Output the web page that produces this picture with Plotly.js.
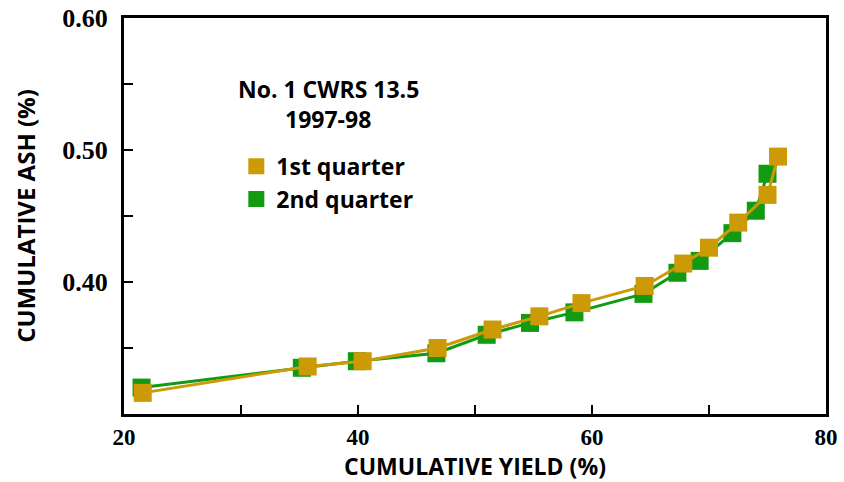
<!DOCTYPE html>
<html>
<head>
<meta charset="utf-8">
<script src="https://cdn.plot.ly/plotly-3.0.1.min.js"></script>
<style>html,body{margin:0;padding:0;background:#fff;}#chart{width:844px;height:482px;}</style>
</head>
<body>
<div id="chart"></div>
<script>
// Data
const q1Yield = [21.6, 35.7, 40.4, 46.8, 51.5, 55.5, 59.1, 64.5, 67.8, 70.0, 72.5, 75.0, 75.9];
const q1Ash   = [0.316, 0.336, 0.340, 0.350, 0.364, 0.374, 0.384, 0.397, 0.414, 0.426, 0.445, 0.466, 0.495];
const q2Yield = [21.5, 35.2, 39.9, 46.7, 51.0, 54.7, 58.5, 64.4, 67.3, 69.2, 72.0, 74.0, 75.0];
const q2Ash   = [0.320, 0.335, 0.340, 0.346, 0.360, 0.369, 0.377, 0.391, 0.407, 0.416, 0.437, 0.454, 0.482];

const seriesNames = ['1st quarter', '2nd quarter'];
const xTickVals = [20, 30, 40, 50, 60, 70, 80];
const xTickText = ['20', '', '40', '', '60', '', '80'];
const yTickVals = [0.30, 0.35, 0.40, 0.45, 0.50, 0.55, 0.60];
const yTickText = ['', '', '0.40', '', '0.50', '', '0.60'];
const legendTitle1 = 'No. 1 CWRS 13.5';
const legendTitle2 = '1997-98';

const orange = '#CC9A06';
const green = '#139A13';

const traces = [
  {x: q2Yield, y: q2Ash, mode: 'lines+markers', showlegend: false,
   line: {color: green, width: 3}, marker: {symbol: 'square', size: 18, color: green}},
  {x: q1Yield, y: q1Ash, mode: 'lines+markers', showlegend: false,
   line: {color: orange, width: 3}, marker: {symbol: 'square', size: 18, color: orange}},
  {x: [null], y: [null], mode: 'markers', name: seriesNames[0],
   marker: {symbol: 'square', size: 18, color: orange}},
  {x: [null], y: [null], mode: 'markers', name: seriesNames[1],
   marker: {symbol: 'square', size: 18, color: green}}
];

const yTickFont = {family: 'Liberation Serif', size: 26, color: '#000', weight: 'bold'};
const xTickFont = {family: 'Liberation Serif', size: 23, color: '#000', weight: 'bold'};
const yTitleFont = {family: 'Open Sans', size: 24, color: '#000', weight: 'bold'};
const xTitleFont = {family: 'Open Sans', size: 23, color: '#000', weight: 'bold'};
const legFont = {family: 'Open Sans', size: 23, color: '#000', weight: 'bold'};

const layout = {
  width: 844, height: 482,
  margin: {l: 124, r: 18, t: 18, b: 68},
  paper_bgcolor: '#fff',
  plot_bgcolor: '#fff',
  showlegend: true,
  legend: {x: 0.16, y: 0.68, xanchor: 'left', yanchor: 'top',
    font: legFont, bgcolor: 'rgba(0,0,0,0)', tracegroupgap: 0, itemwidth: 30},
  xaxis: {
    range: [20, 80], tickmode: 'array', tickvals: xTickVals, ticktext: xTickText,
    ticks: 'inside', ticklen: 9, tickwidth: 2.5, tickcolor: '#000',
    showline: true, linewidth: 3, linecolor: '#000', mirror: true,
    showgrid: false, zeroline: false, tickfont: xTickFont, ticklabelstandoff: 0,
    title: {text: 'CUMULATIVE YIELD (%)', font: xTitleFont, standoff: 5}
  },
  yaxis: {
    range: [0.30, 0.60], tickmode: 'array', tickvals: yTickVals, ticktext: yTickText,
    ticks: 'inside', ticklen: 9, tickwidth: 2.5, tickcolor: '#000',
    showline: true, linewidth: 3, linecolor: '#000', mirror: true,
    showgrid: false, zeroline: false, tickfont: yTickFont, ticklabelstandoff: 8,
    title: {text: 'CUMULATIVE ASH (%)', font: yTitleFont, standoff: 20}
  },
  annotations: [
    {xref: 'paper', yref: 'paper', x: 0.291, y: 0.82, xanchor: 'center', yanchor: 'middle',
     text: legendTitle1, showarrow: false, font: legFont},
    {xref: 'paper', yref: 'paper', x: 0.291, y: 0.745, xanchor: 'center', yanchor: 'middle',
     text: legendTitle2, showarrow: false, font: legFont}
  ]
};

Plotly.newPlot('chart', traces, layout, {displayModeBar: false, staticPlot: true});
</script>
</body>
</html>
